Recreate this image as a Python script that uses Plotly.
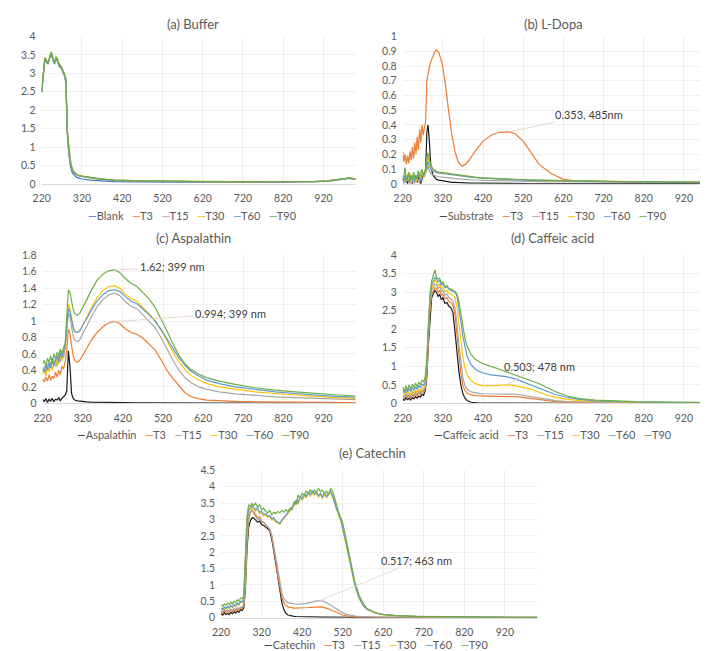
import plotly.graph_objects as go

# ---------------- data ----------------
X_TICKS = [220, 320, 420, 520, 620, 720, 820, 920]

WL_A = [220, 224, 228, 232, 236, 240, 244, 248, 252, 256, 260, 264, 268, 272, 276, 280, 284, 288, 292, 296,
        300, 305, 310, 320, 340, 360, 380, 400, 450, 500, 600, 700, 800, 900, 930, 950, 970, 985, 1000]
A_BLANK = [2.48, 3.00, 3.40, 3.30, 3.25, 3.42, 3.55, 3.35, 3.25, 3.42, 3.30, 3.18, 3.15, 3.05, 2.95, 2.75, 1.25, 0.75, 0.45, 0.30,
           0.24, 0.19, 0.16, 0.13, 0.10, 0.08, 0.07, 0.06, 0.05, 0.045, 0.04, 0.04, 0.04, 0.05, 0.07, 0.10, 0.14, 0.15, 0.12]
A_T3 = [2.50, 3.02, 3.40, 3.32, 3.30, 3.42, 3.56, 3.38, 3.30, 3.43, 3.33, 3.25, 3.20, 3.08, 2.98, 2.82, 1.38, 0.83, 0.53, 0.38,
        0.31, 0.26, 0.23, 0.20, 0.16, 0.13, 0.11, 0.095, 0.08, 0.07, 0.06, 0.055, 0.05, 0.06, 0.075, 0.105, 0.145, 0.155, 0.125]
A_T15 = [2.49, 3.04, 3.41, 3.34, 3.27, 3.44, 3.57, 3.39, 3.27, 3.44, 3.34, 3.21, 3.19, 3.09, 2.99, 2.84, 1.39, 0.84, 0.54, 0.39,
         0.31, 0.26, 0.23, 0.20, 0.16, 0.13, 0.115, 0.095, 0.08, 0.07, 0.06, 0.055, 0.05, 0.06, 0.075, 0.105, 0.145, 0.155, 0.125]
A_T30 = [2.51, 3.06, 3.43, 3.36, 3.29, 3.46, 3.59, 3.41, 3.29, 3.46, 3.36, 3.23, 3.19, 3.11, 3.01, 2.86, 1.41, 0.86, 0.56, 0.40,
         0.32, 0.27, 0.24, 0.21, 0.17, 0.14, 0.12, 0.10, 0.085, 0.075, 0.065, 0.06, 0.055, 0.065, 0.08, 0.11, 0.15, 0.16, 0.13]
A_T60 = [2.50, 3.03, 3.41, 3.33, 3.29, 3.43, 3.57, 3.37, 3.29, 3.44, 3.32, 3.22, 3.17, 3.09, 2.99, 2.83, 1.37, 0.84, 0.54, 0.39,
         0.31, 0.26, 0.23, 0.20, 0.165, 0.135, 0.115, 0.10, 0.08, 0.07, 0.06, 0.055, 0.05, 0.06, 0.075, 0.105, 0.145, 0.155, 0.125]
A_T90 = [2.50, 3.05, 3.42, 3.35, 3.28, 3.45, 3.58, 3.40, 3.28, 3.45, 3.35, 3.22, 3.18, 3.10, 3.00, 2.85, 1.40, 0.85, 0.55, 0.40,
         0.32, 0.27, 0.24, 0.21, 0.17, 0.14, 0.12, 0.10, 0.085, 0.075, 0.065, 0.06, 0.055, 0.065, 0.08, 0.11, 0.15, 0.16, 0.13]

WL_B = [220, 223, 226, 229, 232, 235, 238, 241, 244, 247, 250, 253, 256, 259, 262, 265, 268, 271, 274, 277,
        280, 283, 286, 290, 295, 300, 304, 310, 318, 326, 334, 342, 350, 358, 367, 375, 385, 400, 420, 440, 460,
        485, 500, 520, 540, 560, 590, 620, 650, 700, 800, 900, 1000]
B_SUB = [0.04, 0.01, 0.05, 0.02, 0.00, 0.04, 0.01, 0.03, 0.00, 0.05, 0.02, 0.04, 0.01, 0.05, 0.02, 0.00, 0.04, 0.05, 0.07, 0.08,
         0.35, 0.40, 0.30, 0.12, 0.06, 0.04, 0.03, 0.025, 0.02, 0.015, 0.012, 0.01, 0.01, 0.008, 0.007, 0.006, 0.005, 0.005,
         0.004, 0.004, 0.003, 0.003, 0.003, 0.003, 0.002, 0.002, 0.002, 0.002, 0.002, 0.002, 0.002, 0.002, 0.002]
B_T3 = [0.22, 0.15, 0.20, 0.13, 0.19, 0.14, 0.22, 0.16, 0.25, 0.17, 0.28, 0.20, 0.32, 0.23, 0.37, 0.28, 0.40, 0.33, 0.38, 0.42,
        0.70, 0.75, 0.79, 0.83, 0.87, 0.90, 0.91, 0.89, 0.82, 0.68, 0.50, 0.34, 0.22, 0.15, 0.12, 0.13, 0.16, 0.22,
        0.29, 0.33, 0.35, 0.353, 0.34, 0.29, 0.21, 0.13, 0.07, 0.03, 0.02, 0.015, 0.01, 0.01, 0.01]
B_T15 = [0.03, 0.00, 0.04, 0.01, 0.05, 0.02, 0.00, 0.03, 0.01, 0.04, 0.00, 0.05, 0.02, 0.03, 0.00, 0.06, 0.02, 0.04, 0.05, 0.07,
         0.10, 0.12, 0.09, 0.07, 0.06, 0.055, 0.05, 0.048, 0.045, 0.042, 0.04, 0.038, 0.036, 0.034, 0.032, 0.03, 0.028, 0.026,
         0.024, 0.022, 0.02, 0.019, 0.018, 0.017, 0.016, 0.015, 0.014, 0.013, 0.012, 0.011, 0.01, 0.009, 0.008]
B_T30 = [0.02, 0.05, 0.01, 0.06, 0.02, 0.04, 0.07, 0.01, 0.05, 0.03, 0.06, 0.01, 0.04, 0.07, 0.03, 0.05, 0.08, 0.04, 0.06, 0.08,
         0.14, 0.18, 0.14, 0.11, 0.09, 0.085, 0.08, 0.077, 0.074, 0.07, 0.066, 0.062, 0.058, 0.055, 0.052, 0.05, 0.047, 0.043,
         0.039, 0.036, 0.033, 0.03, 0.029, 0.027, 0.025, 0.024, 0.022, 0.02, 0.019, 0.017, 0.014, 0.012, 0.01]
B_T60 = [0.05, 0.02, 0.06, 0.01, 0.04, 0.06, 0.02, 0.05, 0.03, 0.07, 0.02, 0.05, 0.03, 0.06, 0.04, 0.02, 0.06, 0.05, 0.07, 0.09,
         0.12, 0.15, 0.12, 0.10, 0.085, 0.08, 0.076, 0.073, 0.07, 0.067, 0.063, 0.06, 0.056, 0.053, 0.05, 0.048, 0.045, 0.042,
         0.038, 0.035, 0.032, 0.029, 0.028, 0.026, 0.024, 0.023, 0.021, 0.019, 0.018, 0.016, 0.013, 0.011, 0.009]
B_T90 = [0.03, 0.06, 0.11, 0.02, 0.05, 0.08, 0.03, 0.06, 0.02, 0.08, 0.04, 0.06, 0.03, 0.09, 0.05, 0.07, 0.10, 0.06, 0.08, 0.10,
         0.17, 0.21, 0.17, 0.13, 0.10, 0.09, 0.085, 0.08, 0.077, 0.072, 0.068, 0.064, 0.06, 0.057, 0.054, 0.052, 0.049, 0.045,
         0.04, 0.037, 0.034, 0.031, 0.03, 0.028, 0.026, 0.025, 0.023, 0.021, 0.02, 0.018, 0.014, 0.012, 0.01]

WL_C = [220, 224, 228, 232, 236, 240, 244, 248, 252, 256, 260, 264, 268, 272, 276,
        280, 284, 288, 292, 296, 300, 306, 312, 320, 330, 340, 355, 370, 385, 399, 412, 425, 440, 455, 470,
        485, 500, 515, 530, 545, 560, 575, 590, 610, 630, 660, 700, 750, 800, 850, 900, 950, 1000]
C_ASP = [0.05, 0.02, 0.06, 0.01, 0.05, 0.03, 0.06, 0.02, 0.05, 0.04, 0.07, 0.03, 0.06, 0.08, 0.10,
         0.15, 0.64, 0.45, 0.12, 0.06, 0.04, 0.03, 0.025, 0.02, 0.018, 0.015, 0.013, 0.012, 0.011, 0.01, 0.01, 0.009,
         0.009, 0.008, 0.008, 0.007, 0.007, 0.006, 0.006, 0.006, 0.005, 0.005, 0.005, 0.005, 0.004, 0.004, 0.004, 0.004,
         0.003, 0.003, 0.003, 0.003, 0.003]
C_T3 = [0.30, 0.26, 0.32, 0.27, 0.35, 0.28, 0.33, 0.30, 0.38, 0.32, 0.40, 0.35, 0.45, 0.42, 0.50,
        0.65, 0.90, 0.85, 0.70, 0.58, 0.52, 0.50, 0.52, 0.58, 0.67, 0.76, 0.86, 0.93, 0.98, 0.994, 0.97, 0.91, 0.86, 0.84, 0.79,
        0.72, 0.65, 0.53, 0.40, 0.30, 0.22, 0.13, 0.08, 0.055, 0.04, 0.03, 0.025, 0.02, 0.017, 0.015, 0.013, 0.012, 0.011]
C_T15 = [0.38, 0.45, 0.35, 0.48, 0.40, 0.50, 0.42, 0.47, 0.55, 0.45, 0.58, 0.50, 0.62, 0.55, 0.68,
         0.85, 1.10, 1.05, 0.92, 0.82, 0.77, 0.75, 0.77, 0.84, 0.94, 1.04, 1.17, 1.26, 1.32, 1.34, 1.31, 1.24, 1.18, 1.15, 1.08,
         1.00, 0.92, 0.80, 0.66, 0.52, 0.40, 0.31, 0.25, 0.20, 0.17, 0.14, 0.115, 0.095, 0.08, 0.07, 0.06, 0.05, 0.045]
C_T30 = [0.35, 0.42, 0.33, 0.45, 0.38, 0.48, 0.40, 0.50, 0.45, 0.55, 0.48, 0.60, 0.52, 0.63, 0.66,
         0.90, 1.20, 1.15, 1.03, 0.93, 0.88, 0.86, 0.88, 0.95, 1.05, 1.15, 1.28, 1.37, 1.42, 1.43, 1.40, 1.33, 1.27, 1.24, 1.17,
         1.09, 1.01, 0.89, 0.76, 0.62, 0.50, 0.41, 0.34, 0.28, 0.24, 0.20, 0.17, 0.14, 0.12, 0.10, 0.085, 0.07, 0.06]
C_T60 = [0.42, 0.38, 0.47, 0.40, 0.50, 0.43, 0.55, 0.46, 0.52, 0.58, 0.50, 0.62, 0.56, 0.65, 0.70,
         0.92, 1.15, 1.12, 1.01, 0.92, 0.87, 0.86, 0.88, 0.94, 1.03, 1.12, 1.24, 1.32, 1.37, 1.38, 1.36, 1.30, 1.24, 1.21, 1.15,
         1.08, 1.00, 0.90, 0.78, 0.66, 0.55, 0.46, 0.39, 0.33, 0.28, 0.24, 0.20, 0.17, 0.14, 0.12, 0.10, 0.085, 0.075]
C_T90 = [0.48, 0.52, 0.45, 0.55, 0.50, 0.58, 0.48, 0.60, 0.55, 0.62, 0.58, 0.66, 0.60, 0.68, 0.72,
         1.05, 1.38, 1.35, 1.24, 1.14, 1.09, 1.07, 1.09, 1.16, 1.26, 1.36, 1.49, 1.57, 1.61, 1.62, 1.59, 1.52, 1.46, 1.42, 1.35,
         1.27, 1.17, 1.03, 0.88, 0.72, 0.58, 0.48, 0.41, 0.35, 0.31, 0.27, 0.23, 0.19, 0.16, 0.14, 0.12, 0.105, 0.09]

WL_D = [220, 224, 228, 232, 236, 240, 244, 248, 252, 256, 260, 264, 268, 272, 276,
        280, 284, 288, 292, 296, 300, 304, 308, 312, 316, 320, 325, 330, 335, 340, 345, 350, 355, 360, 365,
        370, 375, 380, 390, 400, 410, 420, 440, 460, 478, 500, 520, 540, 560, 580, 600, 630, 660, 700, 750,
        800, 900, 1000]
D_CAF = [0.12, 0.08, 0.15, 0.10, 0.14, 0.09, 0.16, 0.12, 0.18, 0.14, 0.20, 0.17, 0.25, 0.22, 0.35,
         0.70, 1.60, 2.40, 2.85, 2.95, 3.05, 3.00, 2.88, 2.95, 2.80, 2.85, 2.70, 2.72, 2.62, 2.58, 2.45, 1.95, 1.35, 0.85, 0.48,
         0.25, 0.14, 0.08, 0.03, 0.015, 0.01, 0.01, 0.008, 0.007, 0.006, 0.006, 0.005, 0.005, 0.005, 0.004, 0.004, 0.004,
         0.004, 0.003, 0.003, 0.003, 0.003, 0.003]
D_T3 = [0.18, 0.14, 0.22, 0.16, 0.20, 0.15, 0.24, 0.18, 0.25, 0.20, 0.28, 0.24, 0.32, 0.30, 0.42,
        0.80, 1.75, 2.55, 2.95, 3.05, 3.12, 3.10, 3.00, 3.05, 2.92, 2.95, 2.82, 2.85, 2.75, 2.72, 2.65, 2.40, 1.85, 1.25, 0.78,
        0.48, 0.34, 0.28, 0.23, 0.21, 0.20, 0.19, 0.19, 0.19, 0.19, 0.18, 0.16, 0.13, 0.10, 0.07, 0.05, 0.035, 0.025, 0.02,
        0.015, 0.012, 0.008, 0.006]
D_T15 = [0.22, 0.17, 0.26, 0.20, 0.24, 0.19, 0.28, 0.22, 0.30, 0.25, 0.33, 0.28, 0.36, 0.34, 0.46,
         0.90, 1.85, 2.65, 3.05, 3.15, 3.22, 3.20, 3.10, 3.15, 3.02, 3.05, 2.92, 2.95, 2.85, 2.82, 2.75, 2.58, 2.15, 1.55, 1.05,
         0.68, 0.48, 0.38, 0.31, 0.28, 0.27, 0.26, 0.26, 0.27, 0.27, 0.25, 0.22, 0.18, 0.14, 0.10, 0.075, 0.05, 0.04, 0.03,
         0.022, 0.017, 0.011, 0.008]
D_T30 = [0.28, 0.22, 0.32, 0.25, 0.30, 0.24, 0.34, 0.28, 0.36, 0.30, 0.38, 0.34, 0.42, 0.40, 0.52,
         1.00, 1.95, 2.75, 3.12, 3.22, 3.32, 3.28, 3.18, 3.22, 3.10, 3.12, 3.02, 3.05, 2.98, 2.95, 2.92, 2.85, 2.60, 2.15, 1.65,
         1.22, 0.95, 0.78, 0.62, 0.54, 0.50, 0.48, 0.47, 0.49, 0.503, 0.48, 0.43, 0.38, 0.30, 0.22, 0.17, 0.11, 0.075, 0.055,
         0.04, 0.03, 0.02, 0.015]
D_T60 = [0.35, 0.28, 0.38, 0.30, 0.40, 0.32, 0.42, 0.36, 0.45, 0.38, 0.48, 0.42, 0.52, 0.48, 0.60,
         1.10, 2.05, 2.85, 3.20, 3.32, 3.40, 3.35, 3.28, 3.32, 3.20, 3.22, 3.12, 3.15, 3.08, 3.05, 3.02, 3.00, 2.90, 2.60, 2.20,
         1.80, 1.50, 1.28, 1.05, 0.93, 0.86, 0.82, 0.77, 0.74, 0.72, 0.66, 0.58, 0.50, 0.42, 0.32, 0.24, 0.16, 0.11, 0.07,
         0.05, 0.038, 0.025, 0.018]
D_T90 = [0.45, 0.32, 0.48, 0.35, 0.50, 0.38, 0.52, 0.42, 0.55, 0.45, 0.58, 0.50, 0.62, 0.58, 0.72,
         1.20, 2.15, 2.95, 3.30, 3.45, 3.60, 3.40, 3.35, 3.38, 3.25, 3.28, 3.15, 3.18, 3.10, 3.08, 3.05, 3.02, 2.95, 2.75, 2.40,
         2.05, 1.75, 1.55, 1.32, 1.19, 1.12, 1.07, 1.00, 0.92, 0.84, 0.75, 0.67, 0.61, 0.53, 0.42, 0.32, 0.20, 0.13, 0.09,
         0.06, 0.045, 0.03, 0.022]

WL_E = [220, 224, 228, 232, 236, 240, 244, 248, 252, 256, 260, 264, 268, 272, 276,
        280, 284, 288, 292, 296,
        300, 305, 310, 315, 320, 325, 330, 335, 340, 345, 350, 355, 360, 365, 370, 375, 380, 385, 390, 395,
        400, 405, 410, 415, 420, 425, 430, 435, 440, 445, 450, 455, 460, 465, 470, 475, 480, 485, 490, 495,
        500, 505, 510, 515, 520,
        530, 540, 550, 560, 570, 580, 600, 620, 650, 700, 750, 800, 900, 1000]
E_CAT = [0.12, 0.08, 0.15, 0.10, 0.13, 0.09, 0.16, 0.12, 0.18, 0.14, 0.20, 0.17, 0.24, 0.22, 0.30,
         0.85, 2.10, 2.75, 2.95, 3.05,
         3.05, 2.98, 2.92, 2.95, 2.85, 2.82, 2.78, 2.72, 2.65, 2.40, 2.05, 1.65, 1.20, 0.80, 0.45, 0.24, 0.13, 0.08, 0.06, 0.05,
         0.04, 0.036, 0.033, 0.03, 0.028, 0.026, 0.025, 0.024, 0.023, 0.022, 0.021, 0.02, 0.02, 0.019, 0.018, 0.017, 0.016,
         0.015, 0.014, 0.013, 0.012, 0.011, 0.011, 0.01, 0.01,
         0.009, 0.009, 0.008, 0.008, 0.007, 0.007, 0.006, 0.006, 0.005, 0.005, 0.005, 0.004, 0.004, 0.004]
E_T3 = [0.18, 0.14, 0.21, 0.16, 0.19, 0.15, 0.22, 0.18, 0.24, 0.20, 0.27, 0.23, 0.30, 0.28, 0.38,
        1.00, 2.30, 2.95, 3.20, 3.30,
        3.25, 3.15, 3.05, 3.08, 2.95, 2.92, 2.85, 2.78, 2.70, 2.50, 2.15, 1.72, 1.28, 0.90, 0.62, 0.45, 0.37, 0.33, 0.31, 0.30,
        0.29, 0.29, 0.29, 0.29, 0.29, 0.295, 0.30, 0.31, 0.315, 0.32, 0.325, 0.33, 0.33, 0.33, 0.32, 0.31, 0.29, 0.27, 0.24,
        0.21, 0.18, 0.15, 0.12, 0.10, 0.08,
        0.055, 0.04, 0.03, 0.025, 0.02, 0.018, 0.015, 0.013, 0.011, 0.009, 0.008, 0.007, 0.006, 0.005]
E_T15 = [0.22, 0.18, 0.25, 0.20, 0.24, 0.19, 0.26, 0.22, 0.28, 0.24, 0.30, 0.27, 0.33, 0.31, 0.42,
         1.05, 2.40, 3.05, 3.25, 3.28,
         3.20, 3.10, 3.00, 3.02, 2.92, 2.90, 2.85, 2.78, 2.70, 2.52, 2.20, 1.80, 1.40, 1.02, 0.75, 0.58, 0.50, 0.46, 0.44, 0.43,
         0.42, 0.41, 0.41, 0.41, 0.41, 0.42, 0.43, 0.45, 0.47, 0.49, 0.505, 0.513, 0.517, 0.517, 0.51, 0.49, 0.46, 0.43, 0.39,
         0.35, 0.30, 0.26, 0.22, 0.18, 0.15,
         0.10, 0.07, 0.05, 0.04, 0.03, 0.025, 0.02, 0.017, 0.014, 0.011, 0.01, 0.009, 0.007, 0.006]
E_T30 = [0.28, 0.24, 0.31, 0.26, 0.33, 0.28, 0.36, 0.31, 0.38, 0.34, 0.43, 0.38, 0.48, 0.46, 0.56,
         1.55, 2.85, 3.25, 3.30, 3.38,
         3.33, 3.26, 3.30, 3.18, 3.20, 3.11, 3.14, 3.06, 3.08, 2.98, 3.00, 2.92, 2.90, 2.86, 2.95, 3.02, 3.12, 3.18, 3.26, 3.34,
         3.42, 3.55, 3.46, 3.68, 3.58, 3.74, 3.66, 3.80, 3.71, 3.83, 3.74, 3.80, 3.68, 3.76, 3.64, 3.78, 3.66, 3.76, 3.83, 3.68,
         3.50, 3.26, 3.15, 2.96, 2.70,
         2.15, 1.55, 0.97, 0.60, 0.37, 0.25, 0.145, 0.095, 0.062, 0.038, 0.027, 0.019, 0.013, 0.01]
E_T60 = [0.30, 0.26, 0.33, 0.28, 0.35, 0.30, 0.38, 0.33, 0.40, 0.36, 0.45, 0.40, 0.50, 0.48, 0.58,
         1.60, 2.90, 3.30, 3.35, 3.42,
         3.38, 3.30, 3.35, 3.22, 3.25, 3.15, 3.18, 3.10, 3.12, 3.02, 3.05, 2.95, 2.92, 2.88, 2.98, 3.05, 3.15, 3.22, 3.30, 3.38,
         3.45, 3.60, 3.50, 3.72, 3.62, 3.78, 3.70, 3.85, 3.75, 3.88, 3.78, 3.85, 3.72, 3.80, 3.68, 3.82, 3.70, 3.80, 3.88, 3.72,
         3.55, 3.30, 3.20, 3.00, 2.75,
         2.20, 1.60, 1.00, 0.62, 0.38, 0.26, 0.15, 0.10, 0.065, 0.04, 0.028, 0.02, 0.014, 0.011]
E_T90 = [0.40, 0.35, 0.42, 0.38, 0.45, 0.40, 0.48, 0.42, 0.50, 0.46, 0.55, 0.50, 0.60, 0.58, 0.68,
         1.80, 3.10, 3.45, 3.40, 3.50,
         3.42, 3.50, 3.38, 3.45, 3.30, 3.35, 3.25, 3.20, 3.28, 3.15, 3.22, 3.18, 3.25, 3.20, 3.28, 3.22, 3.30, 3.25, 3.35, 3.30,
         3.55, 3.45, 3.75, 3.65, 3.80, 3.72, 3.88, 3.78, 3.92, 3.80, 3.90, 3.82, 3.95, 3.85, 3.90, 3.78, 3.88, 3.75, 3.95, 3.88,
         3.62, 3.45, 3.22, 3.05, 2.90,
         2.30, 1.70, 1.10, 0.70, 0.45, 0.28, 0.15, 0.09, 0.06, 0.04, 0.028, 0.02, 0.014, 0.011]

TIME_NAMES = ["T3", "T15", "T30", "T60", "T90"]

# ---------------- styling ----------------
W, H = 708, 651
FONT = "Lato, 'Open Sans', sans-serif"
TXT = "#595959"
TIME_COLORS = ["#ED7D31", "#A5A5A5", "#FFC000", "#5B9BD5", "#70AD47"]


def px(v):
    return v / W


def py(v):
    return 1 - v / H


panels = [
    dict(title="(a) Buffer", wl=WL_A, ref=("Blank", A_BLANK, "#4472C4"),
         times=[A_T3, A_T15, A_T30, A_T60, A_T90],
         xd=(25, 343), yd=(23, 173), yr=4, ydt=0.5,
         yticks=["0", "0.5", "1", "1.5", "2", "2.5", "3", "3.5", "4"],
         tpos=(178, 10), lpos=(178, 205)),
    dict(title="(b) L-Dopa", wl=WL_B, ref=("Substrate", B_SUB, "#1A1A1A"),
         times=[B_T3, B_T15, B_T30, B_T60, B_T90],
         xd=(390.7, 708), yd=(23, 173), yr=1, ydt=0.1,
         yticks=["0", "0.1", "0.2", "0.3", "0.4", "0.5", "0.6", "0.7", "0.8", "0.9", "1"],
         tpos=(543, 10), lpos=(543, 205)),
    dict(title="(c) Aspalathin", wl=WL_C, ref=("Aspalathin", C_ASP, "#1A1A1A"),
         times=[C_T3, C_T15, C_T30, C_T60, C_T90],
         xd=(26, 343), yd=(245.7, 396.7), yr=1.8, ydt=0.2,
         yticks=["0", "0.2", "0.4", "0.6", "0.8", "1", "1.2", "1.4", "1.6", "1.8"],
         tpos=(179, 228), lpos=(179, 428)),
    dict(title="(d) Caffeic acid", wl=WL_D, ref=("Caffeic acid", D_CAF, "#1A1A1A"),
         times=[D_T3, D_T15, D_T30, D_T60, D_T90],
         xd=(390.7, 708), yd=(245.7, 396.7), yr=4, ydt=0.5,
         yticks=["0", "0.5", "1", "1.5", "2", "2.5", "3", "3.5", "4"],
         tpos=(542, 228), lpos=(543, 428)),
    dict(title="(e) Catechin", wl=WL_E, ref=("Catechin", E_CAT, "#1A1A1A"),
         times=[E_T3, E_T15, E_T30, E_T60, E_T90],
         xd=(206.7, 527), yd=(465, 615), yr=4.5, ydt=0.5,
         yticks=["0", "0.5", "1", "1.5", "2", "2.5", "3", "3.5", "4", "4.5"],
         tpos=(360, 447), lpos=(364, 642)),
]

fig = go.Figure()
annotations = []
layout_axes = {}

for i, p in enumerate(panels, start=1):
    xa = "x" if i == 1 else f"x{i}"
    ya = "y" if i == 1 else f"y{i}"
    names = [p["ref"][0]] + TIME_NAMES
    colors = [p["ref"][2]] + TIME_COLORS
    values = [p["ref"][1]] + p["times"]
    for nm, col, vals in zip(names, colors, values):
        assert len(vals) == len(p["wl"]), (p["title"], nm, len(vals), len(p["wl"]))
        fig.add_trace(go.Scatter(x=p["wl"], y=vals, mode="lines", name=nm,
                                 line=dict(color=col, width=1.2),
                                 xaxis=xa, yaxis=ya, showlegend=False,
                                 hoverinfo="x+y+name"))
    nt = len(p["yticks"])
    layout_axes["xaxis" if i == 1 else f"xaxis{i}"] = dict(
        domain=[px(p["xd"][0]), px(p["xd"][1])], range=[220, 1000], anchor=ya,
        tickvals=X_TICKS, ticktext=[str(t) for t in X_TICKS],
        showgrid=True, gridcolor="#EEEEEE", gridwidth=1, zeroline=False,
        showline=True, linecolor="#D9D9D9", linewidth=1, ticks="",
        ticklabelstandoff=5, tickfont=dict(size=10.5, color=TXT, family=FONT))
    layout_axes["yaxis" if i == 1 else f"yaxis{i}"] = dict(
        domain=[py(p["yd"][1]), py(p["yd"][0])], range=[0, p["yr"]], anchor=xa,
        tickvals=[round(k * p["ydt"], 3) for k in range(nt)], ticktext=p["yticks"],
        showgrid=True, gridcolor="#F0F0F0", gridwidth=1, zeroline=False,
        showline=False, ticks="", ticklabelstandoff=5,
        tickfont=dict(size=10.5, color=TXT, family=FONT))
    # title
    annotations.append(dict(text=p["title"], x=px(p["tpos"][0]), y=py(p["tpos"][1]),
                            xref="paper", yref="paper", showarrow=False,
                            xanchor="center", yanchor="middle",
                            font=dict(size=13, color=TXT, family=FONT)))
    # legend (line-sample + name for each series)
    legend_txt = "\u00a0\u00a0\u00a0".join(
        f'<span style="color:{c}">\u2014</span>{n}' for n, c in zip(names, colors))
    annotations.append(dict(text=legend_txt, x=px(p["lpos"][0]), y=py(p["lpos"][1]),
                            xref="paper", yref="paper", showarrow=False,
                            xanchor="center", yanchor="middle",
                            font=dict(size=11, color=TXT, family=FONT)))

# data callouts
CALLOUTS = [
    ("x2", "y2", 485, 0.353, "0.353, 485nm", 80, -17),
    ("x3", "y3", 399, 1.62, "1.62; 399 nm", 58, -3),
    ("x3", "y3", 399, 0.994, "0.994; 399 nm", 116, -8),
    ("x4", "y4", 478, 0.503, "0.503; 478 nm", 33, -18),
    ("x5", "y5", 463, 0.517, "0.517; 463 nm", 97, -40),
]
for xr, yr, xv, yv, txt, ax, ay in CALLOUTS:
    annotations.append(dict(x=xv, y=yv, xref=xr, yref=yr, text=txt, showarrow=True,
                            arrowhead=0, arrowwidth=1, arrowcolor="#EAD7CB",
                            ax=ax, ay=ay, standoff=0,
                            font=dict(size=11, color="#404040", family=FONT)))

fig.update_layout(width=W, height=H, margin=dict(l=0, r=0, t=0, b=0),
                  paper_bgcolor="white", plot_bgcolor="white",
                  font=dict(family=FONT, color=TXT),
                  annotations=annotations, showlegend=False, **layout_axes)

fig.write_html("out.html")
